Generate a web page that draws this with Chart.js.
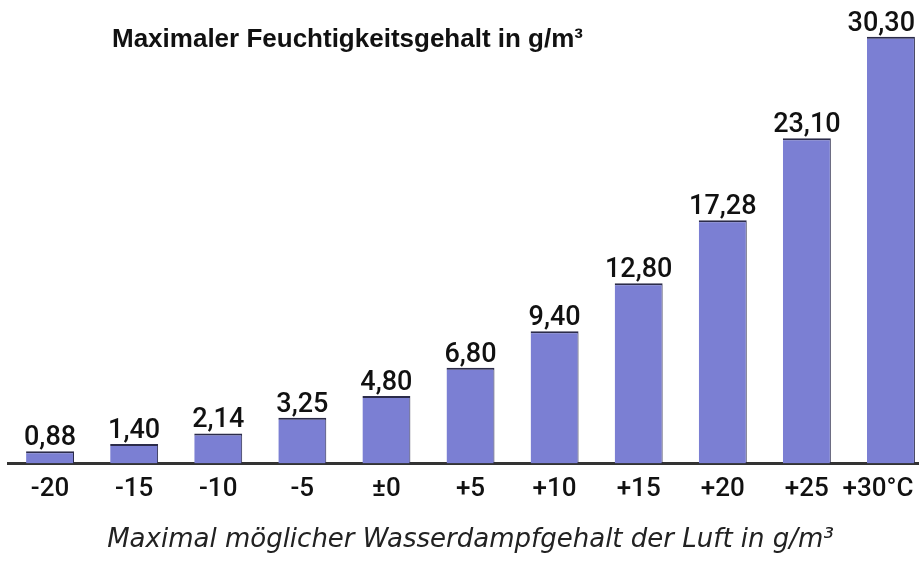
<!DOCTYPE html>
<html>
<head>
<meta charset="utf-8">
<script src="https://cdn.jsdelivr.net/npm/chart.js@4"></script>
<style>
  html, body { margin: 0; padding: 0; background: #fff; overflow: hidden; }
  #wrap { width: 945px; height: 561px; position: relative; }
</style>
</head>
<body>
<div id="wrap"><canvas id="chart"></canvas></div>
<script>
// temperature in °C -> max. water vapour in g/m³
const temperatures = ["-20", "-15", "-10", "-5", "±0", "+5", "+10", "+15", "+20", "+25", "+30°C"];
const maxHumidity = [0.88, 1.40, 2.14, 3.25, 4.80, 6.80, 9.40, 12.80, 17.28, 23.10, 30.30];

const chartTitle = "Maximaler Feuchtigkeitsgehalt in g/m³";
const axisTitle = "Maximal möglicher Wasserdampfgehalt der Luft in g/m³";

const ink = "#111";

// value on top of every bar, german decimal comma
const valueLabels = {
  id: "valueLabels",
  afterDatasetsDraw(chart) {
    const ctx = chart.ctx;
    const meta = chart.getDatasetMeta(0);
    const rightLimit = window.innerWidth - 4;
    ctx.save();
    ctx.font = "500 27px Roboto";
    ctx.fillStyle = ink;
    ctx.textAlign = "center";
    ctx.textBaseline = "alphabetic";
    meta.data.forEach((bar, i) => {
      const txt = maxHumidity[i].toFixed(2).replace(".", ",");
      const w = ctx.measureText(txt).width;
      // keep the last one inside the visible page
      const x = Math.min(bar.x, rightLimit - w / 2);
      ctx.fillText(txt, x, bar.y - 6);
    });
    ctx.restore();
  }
};

// heading sits inside the plot, top left
const heading = {
  id: "heading",
  afterDraw(chart) {
    const ctx = chart.ctx;
    ctx.save();
    ctx.font = "bold 26px 'Liberation Sans'";
    ctx.fillStyle = ink;
    ctx.textAlign = "left";
    ctx.textBaseline = "alphabetic";
    ctx.fillText(chartTitle, 112, 47);
    ctx.restore();
  }
};

new Chart(document.getElementById("chart"), {
  type: "bar",
  data: {
    labels: temperatures,
    datasets: [{
      data: maxHumidity,
      backgroundColor: "#7b7fd3",
      borderColor: "#2b2b4a",
      borderWidth: { top: 2, right: 1, left: 0, bottom: 0 },
      borderSkipped: false,
      categoryPercentage: 1,
      barPercentage: 0.57
    }]
  },
  options: {
    responsive: true,
    maintainAspectRatio: false,
    animation: false,
    layout: { padding: { top: 27, left: 8, right: 12, bottom: 0 } },
    plugins: {
      legend: { display: false },
      tooltip: { enabled: false }
    },
    scales: {
      x: {
        grid: { display: false, drawTicks: false },
        border: { display: true, color: "#333", width: 3 },
        ticks: {
          color: ink,
          padding: 10,
          minRotation: 0,
          maxRotation: 0,
          autoSkip: false,
          font: { family: "Roboto", size: 26, weight: "500" },
          // last label is wider and sits a bit left of its bar
          callback: (v, i) => i === temperatures.length - 1 ? temperatures[i] + "    " : temperatures[i]
        },
        // don't let the wide last label squeeze the plot
        afterFit: (scale) => { scale.paddingRight = 0; },
        title: {
          display: true,
          text: axisTitle,
          color: "#222",
          font: { family: "'DejaVu Sans'", size: 26, style: "italic" },
          padding: { top: 10, bottom: 5 }
        }
      },
      y: {
        display: false,
        min: 0,
        max: 31
      }
    }
  },
  plugins: [valueLabels, heading]
});
</script>
</body>
</html>
